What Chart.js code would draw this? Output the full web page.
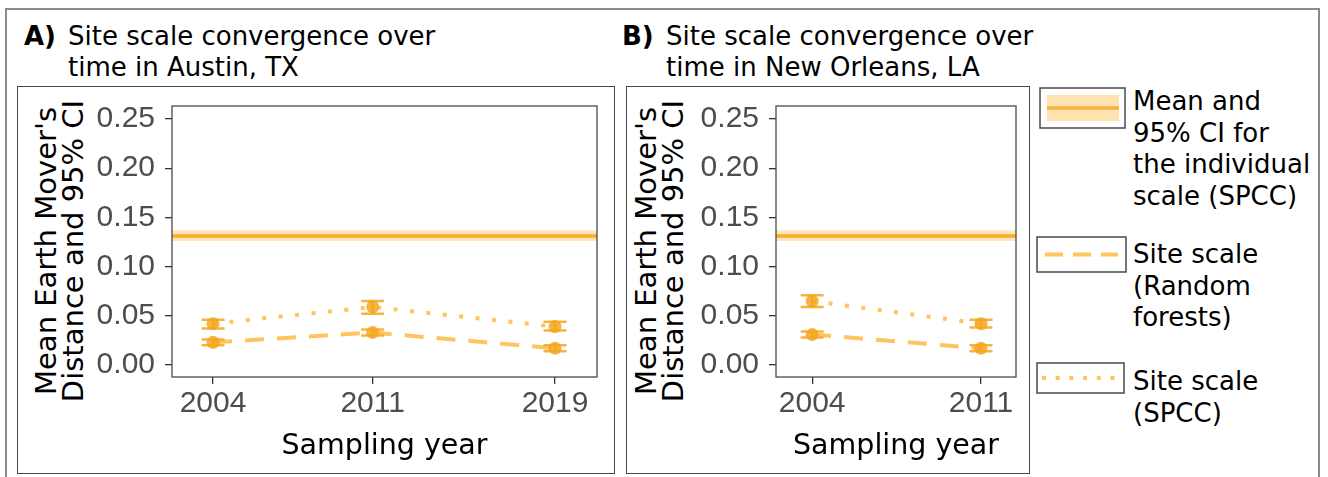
<!DOCTYPE html>
<html>
<head>
<meta charset="utf-8">
<script src="https://cdn.jsdelivr.net/npm/chart.js@4.4.1/dist/chart.umd.min.js"></script>
<style>
  html, body { margin: 0; padding: 0; background: #fff; }
  body { width: 1328px; height: 477px; position: relative; overflow: hidden; font-family: "DejaVu Sans", sans-serif; color: #000; }
  .frame { position: absolute; left: 5px; top: 8px; width: 1315px; height: 480px; border: 2px solid #8a8a8a; box-sizing: border-box; }
  .panel { position: absolute; border: 1.5px solid #4a4a4a; box-sizing: border-box; }
  .title { position: absolute; font-size: 26px; line-height: 31px; white-space: nowrap; }
  .title b { position: absolute; left: 0; top: 0; }
  .title span { position: absolute; top: 0; }
  .ytitle { position: absolute; font-size: 29px; line-height: 27px; white-space: nowrap; text-align: center;
            transform: translate(-50%, -50%) rotate(-90deg); }
  canvas { position: absolute; }
  .lkey { position: absolute; }
  .ltext { position: absolute; font-size: 26px; line-height: 31.5px; white-space: nowrap; }
</style>
</head>
<body>
<div class="frame"></div>

<div class="panel" style="left:17px;top:86px;width:598px;height:388px;"></div>
<div class="panel" style="left:626px;top:86px;width:404px;height:388px;"></div>

<div class="title" style="left:24px;top:21px;"><b>A)</b><span style="left:44px;">Site scale convergence over<br>time in Austin, TX</span></div>
<div class="title" style="left:622px;top:21px;"><b>B)</b><span style="left:44px;">Site scale convergence over<br>time in New Orleans, LA</span></div>

<div class="ytitle" style="left:60px;top:251px;">Mean Earth Mover's<br>Distance and 95% CI</div>
<div class="ytitle" style="left:660px;top:251px;">Mean Earth Mover's<br>Distance and 95% CI</div>

<canvas id="chartA" width="597" height="387" style="left:17px;top:86px;"></canvas>
<canvas id="chartB" width="403" height="387" style="left:626px;top:86px;"></canvas>

<!-- legend -->
<svg class="lkey" style="left:1039px;top:87px;" width="88" height="43">
  <rect x="1" y="1" width="85" height="40" fill="#fff" stroke="#4a4a4a" stroke-width="1.5"/>
  <rect x="8" y="8" width="72" height="26" fill="rgba(255,165,0,0.3)"/>
  <line x1="8" y1="21" x2="80" y2="21" stroke="#F8B03A" stroke-width="3.5"/>
</svg>
<div class="ltext" style="left:1133px;top:86px;">Mean and<br>95% CI for<br>the individual<br>scale (SPCC)</div>

<svg class="lkey" style="left:1036px;top:236px;" width="92" height="38">
  <rect x="1" y="1" width="89" height="35" fill="#fff" stroke="#4a4a4a" stroke-width="1.5"/>
  <line x1="9" y1="18.5" x2="82" y2="18.5" stroke="#FFC45E" stroke-width="4" stroke-dasharray="18 10"/>
</svg>
<div class="ltext" style="left:1133px;top:239px;">Site scale<br>(Random<br>forests)</div>

<svg class="lkey" style="left:1036px;top:362px;" width="90" height="33">
  <rect x="1" y="1" width="87" height="30" fill="#fff" stroke="#4a4a4a" stroke-width="1.5"/>
  <line x1="6" y1="16" x2="82" y2="16" stroke="#FFC45E" stroke-width="4" stroke-dasharray="4 9.7"/>
</svg>
<div class="ltext" style="left:1133px;top:366px;">Site scale<br>(SPCC)</div>

<script>
// ---- Austin, TX ----
const yearsA = [2004, 2011, 2019];
const rfMeanA = [0.023, 0.033, 0.017];
const rfLowA = [0.020, 0.030, 0.014];
const rfHighA = [0.026, 0.036, 0.020];
const spccMeanA = [0.042, 0.059, 0.039];
const spccLowA = [0.037, 0.052, 0.035];
const spccHighA = [0.046, 0.065, 0.044];
const indivMeanA = 0.131;
const indivLowA = 0.126;
const indivHighA = 0.137;

// ---- New Orleans, LA ----
const yearsB = [2004, 2011];
const rfMeanB = [0.031, 0.017];
const rfLowB = [0.028, 0.014];
const rfHighB = [0.034, 0.020];
const spccMeanB = [0.065, 0.042];
const spccLowB = [0.059, 0.038];
const spccHighB = [0.071, 0.046];
const indivMeanB = 0.131;
const indivLowB = 0.126;
const indivHighB = 0.137;

// ---- shared tick values ----
const yTicks = [0.00, 0.05, 0.10, 0.15, 0.20, 0.25];

Chart.defaults.font.family = '"DejaVu Sans", sans-serif';
Chart.defaults.animation = false;

const ORANGE = 'rgba(246,166,30,0.85)';
const LINE_ORANGE = '#FFC45E';

// Error bars and panel border, drawn through the chart's scales
const errorBarPlugin = {
  id: 'errorBars',
  afterDatasetsDraw(chart) {
    const ctx = chart.ctx;
    const xs = chart.scales.x, ys = chart.scales.y;
    chart.data.datasets.forEach(ds => {
      if (!ds.errLow) return;
      ctx.save();
      ctx.strokeStyle = ORANGE;
      ctx.lineWidth = 2.5;
      ds.data.forEach((p, i) => {
        const px = xs.getPixelForValue(p.x);
        const lo = ys.getPixelForValue(ds.errLow[i]);
        const hi = ys.getPixelForValue(ds.errHigh[i]);
        const hw = 11.5;
        ctx.beginPath();
        ctx.moveTo(px, lo); ctx.lineTo(px, hi);
        ctx.moveTo(px - hw, lo); ctx.lineTo(px + hw, lo);
        ctx.moveTo(px - hw, hi); ctx.lineTo(px + hw, hi);
        ctx.stroke();
      });
      ctx.restore();
    });
  },
  afterDraw(chart) {
    const a = chart.chartArea, ctx = chart.ctx;
    ctx.save();
    ctx.strokeStyle = '#4a4a4a';
    ctx.lineWidth = 1.3;
    ctx.strokeRect(a.left, a.top, a.right - a.left, a.bottom - a.top);
    ctx.restore();
  }
};

function buildChart(id, years, rfMean, rfLow, rfHigh, spMean, spLow, spHigh,
                    indMean, indLow, indHigh, xMin, xMax, yAxisWidth, padRight) {
  const pts = (vals) => years.map((y, i) => ({ x: y, y: vals[i] }));
  const span = (v) => [{ x: xMin, y: v }, { x: xMax, y: v }];
  return new Chart(document.getElementById(id), {
    type: 'line',
    data: {
      datasets: [
        { data: span(indHigh), borderWidth: 0, pointRadius: 0, fill: false },
        { data: span(indLow), borderWidth: 0, pointRadius: 0, fill: '-1',
          backgroundColor: 'rgba(255,165,0,0.28)' },
        { data: span(indMean), borderColor: '#F8B03A', borderWidth: 3.5, pointRadius: 0, fill: false },
        { data: pts(rfMean), errLow: rfLow, errHigh: rfHigh,
          borderColor: LINE_ORANGE, borderWidth: 4, borderDash: [19, 13],
          pointRadius: 6.5, pointBackgroundColor: ORANGE, pointBorderWidth: 0, fill: false },
        { data: pts(spMean), errLow: spLow, errHigh: spHigh,
          borderColor: LINE_ORANGE, borderWidth: 4, borderDash: [4, 12.5],
          pointRadius: 6.5, pointBackgroundColor: ORANGE, pointBorderWidth: 0, fill: false }
      ]
    },
    options: {
      responsive: false,
      layout: { padding: { left: 0, top: 20, right: padRight, bottom: 0 } },
      plugins: { legend: { display: false }, tooltip: { enabled: false } },
      scales: {
        x: {
          type: 'linear', min: xMin, max: xMax,
          afterBuildTicks: (s) => { s.ticks = years.map(v => ({ value: v })); },
          afterFit: (s) => { s.height = 96; s.paddingLeft = 0; s.paddingRight = 0; },
          border: { display: false },
          grid: { drawOnChartArea: false, drawTicks: true, tickLength: 7, color: '#333', lineWidth: 1.3 },
          ticks: { color: '#4d4d4d', padding: 2, maxRotation: 0,
                   font: { family: '"Liberation Sans", Arial, sans-serif', size: 30 },
                   callback: (v) => String(v) },
          title: { display: true, text: 'Sampling year', color: '#000',
                   font: { size: 28.5 }, padding: { top: 0, bottom: 9 } }
        },
        y: {
          type: 'linear', min: -0.0122, max: 0.2632,
          afterBuildTicks: (s) => { s.ticks = yTicks.map(v => ({ value: v })); },
          afterFit: (s) => { s.width = yAxisWidth; s.paddingTop = 0; s.paddingBottom = 0; },
          border: { display: false },
          grid: { drawOnChartArea: false, drawTicks: true, tickLength: 7, color: '#333', lineWidth: 1.3 },
          ticks: { color: '#4d4d4d', padding: 10,
                   font: { family: '"Liberation Sans", Arial, sans-serif', size: 30 },
                   callback: (v) => v.toFixed(2) }
        }
      }
    },
    plugins: [errorBarPlugin]
  });
}

buildChart('chartA', yearsA, rfMeanA, rfLowA, rfHighA, spccMeanA, spccLowA, spccHighA,
           indivMeanA, indivLowA, indivHighA, 2002.2, 2020.84, 155, 17);
buildChart('chartB', yearsB, rfMeanB, rfLowB, rfHighB, spccMeanB, spccLowB, spccHighB,
           indivMeanB, indivLowB, indivHighB, 2002.5, 2012.45, 150, 13);
</script>
</body>
</html>
